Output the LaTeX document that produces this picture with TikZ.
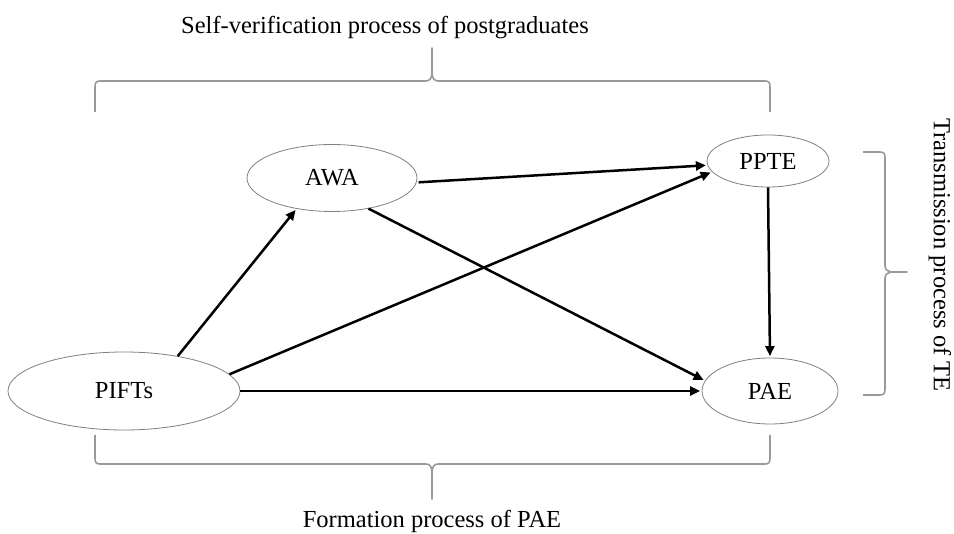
\documentclass[tikz,border=0pt]{standalone}
\usepackage{fontspec}
\setmainfont{Liberation Serif}
\usetikzlibrary{arrows.meta,shapes.geometric}
\begin{document}
\begin{tikzpicture}[x=1pt,y=-1pt,
  ell/.style={draw=black!50,line width=0.8pt,ellipse,inner sep=0pt,font=\fontsize{24.5}{28}\selectfont},
  arr/.style={line width=2.5pt,-{Triangle[length=10pt,width=9pt]},shorten >=1.5pt},
  brace/.style={draw=black!40,line width=1.6pt,line join=round},
  lab/.style={font=\fontsize{24.5}{28}\selectfont,inner sep=0pt}]
\useasboundingbox (0,0) rectangle (954,534);
\fill[white] (0,0) rectangle (954,534);
% nodes
\node[ell,minimum width=170pt,minimum height=67pt] (awa) at (332,178) {AWA};
\node[ell,minimum width=122pt,minimum height=52pt] (ppte) at (768,161) {PPTE};
\node[ell,minimum width=232pt,minimum height=78pt] (pifts) at (124,391) {PIFTs};
\node[ell,minimum width=136pt,minimum height=66pt] (pae) at (770,391) {PAE};
% labels
\node[lab] (t1) at (385,28) {Self-verification process of postgraduates};
\node[lab] (t2) at (432,521) {Formation process of PAE};
\node[lab,rotate=-90] (t3) at (940,255) {Transmission process of TE};
% braces
\draw[brace] (95,112) -- (95,87) .. controls (95,83) and (96,81) .. (100,81)
  -- (426,81) .. controls (430,81) and (432,78) .. (432,72) -- (432,48)
  -- (432,72) .. controls (432,78) and (434,81) .. (438,81)
  -- (765,81) .. controls (769,81) and (770,83) .. (770,87) -- (770,112);
\draw[brace] (95,435) -- (95,458) .. controls (95,462) and (96,464) .. (100,464)
  -- (426,464) .. controls (430,464) and (432,467) .. (432,473) -- (432,499)
  -- (432,473) .. controls (432,467) and (434,464) .. (438,464)
  -- (765,464) .. controls (769,464) and (770,462) .. (770,458) -- (770,435);
\draw[brace] (863,152) -- (880,152) .. controls (884,152) and (885,154) .. (885,158)
  -- (885,266) .. controls (885,270) and (888,272) .. (894,272) -- (907,272)
  -- (894,272) .. controls (888,272) and (885,274) .. (885,278)
  -- (885,389) .. controls (885,393) and (884,395) .. (880,395) -- (863,395);
% arrows
\draw[arr] (pifts.33.5) -- (awa.221);
\draw[arr,shorten <=2pt] (awa.-3) -- (ppte.184);
\draw[arr] (pifts.9.5) -- (ppte.191);
\draw[arr] (awa.-40.7) -- (pae.171.5);
\draw[arr] (ppte.south) -- (pae.north);
\draw[arr] (pifts.east) -- (pae.west);
\end{tikzpicture}
\end{document}
